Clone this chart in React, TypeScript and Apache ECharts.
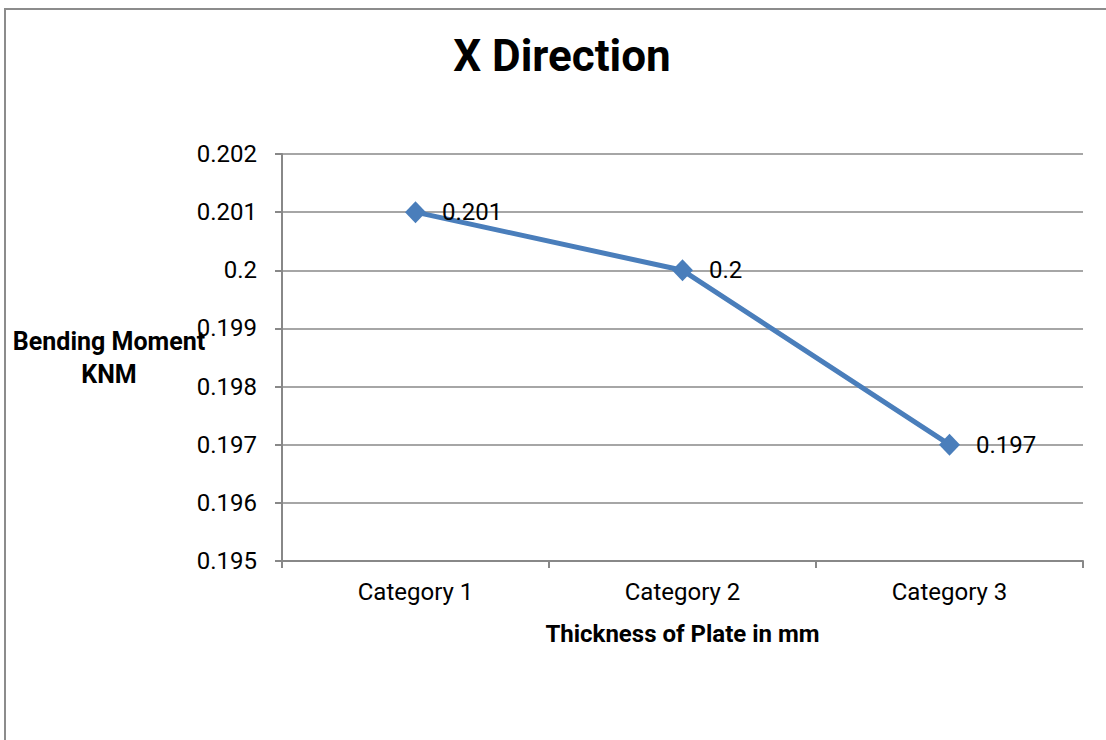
import React, { useEffect, useRef } from "react";
import * as echarts from "echarts";

const categories = ["Category 1", "Category 2", "Category 3"];
const bendingMoment = [0.201, 0.2, 0.197];
const yMin = 0.195;
const yMax = 0.202;
const yStep = 0.001;
const yAxisTitle = "Bending Moment\nKNM";

const FONT = "Roboto, 'Noto Sans', sans-serif";

export default function App() {
  const ref = useRef<HTMLDivElement>(null);
  useEffect(() => {
    document.body.style.margin = "0";
    const chart = echarts.init(ref.current!, null, { renderer: "svg" });
    chart.setOption({
      animation: false,
      backgroundColor: "#ffffff",
      title: {
        text: "X Direction",
        left: 557,
        top: 29,
        textAlign: "center",
        textStyle: { fontFamily: FONT, fontSize: 44, fontWeight: "bold", color: "#000" },
      },
      graphic: [
        {
          type: "rect",
          shape: { x: 5, y: 9, width: 1200, height: 800 },
          style: { fill: "none", stroke: "#8c8c8c", lineWidth: 2 },
          silent: true,
        },
        {
          type: "text",
          x: 109,
          y: 358,
          style: {
            text: yAxisTitle,
            fill: "#000",
            fontFamily: FONT,
            fontSize: 25,
            fontWeight: "bold",
            lineHeight: 33,
            align: "center",
            verticalAlign: "middle",
          },
          silent: true,
        },
      ],
      grid: { left: 282, right: 23, top: 154, bottom: 179, outerBoundsMode: "none", containLabel: false },
      xAxis: {
        type: "category",
        data: categories,
        boundaryGap: true,
        name: "Thickness of Plate in mm",
        nameLocation: "middle",
        nameGap: 61,
        nameTextStyle: { fontFamily: FONT, fontSize: 24, fontWeight: "bold", color: "#000" },
        axisLine: { show: true, lineStyle: { color: "#888888", width: 2 } },
        axisTick: { show: true, length: 7, lineStyle: { color: "#888888", width: 2 } },
        axisLabel: { fontFamily: FONT, fontSize: 24, color: "#000", margin: 19 },
        splitLine: { show: false },
      },
      yAxis: {
        type: "value",
        min: yMin,
        max: yMax,
        interval: yStep,
        axisLine: { show: true, lineStyle: { color: "#888888", width: 2 } },
        axisTick: { show: true, length: 7, lineStyle: { color: "#888888", width: 2 } },
        axisLabel: {
          fontFamily: FONT,
          fontSize: 24,
          color: "#000",
          margin: 25,
          formatter: (v: number) => String(+v.toFixed(3)),
        },
        splitLine: { show: true, lineStyle: { color: "#888888", width: 1.5 } },
      },
      series: [
        {
          type: "line",
          data: bendingMoment,
          symbol: "diamond",
          symbolSize: [21, 22],
          lineStyle: { color: "#4a7ebb", width: 5 },
          itemStyle: { color: "#4a7ebb" },
          label: {
            show: true,
            position: "right",
            distance: 16,
            fontFamily: FONT,
            fontSize: 24,
            color: "#000",
            formatter: (p: any) => String(+Number(p.value).toFixed(3)),
          },
        },
      ],
    });
    return () => chart.dispose();
  }, []);
  return (
    <div
      ref={ref}
      style={{ position: "absolute", left: 0, top: 0, width: 1106, height: 740 }}
    />
  );
}
